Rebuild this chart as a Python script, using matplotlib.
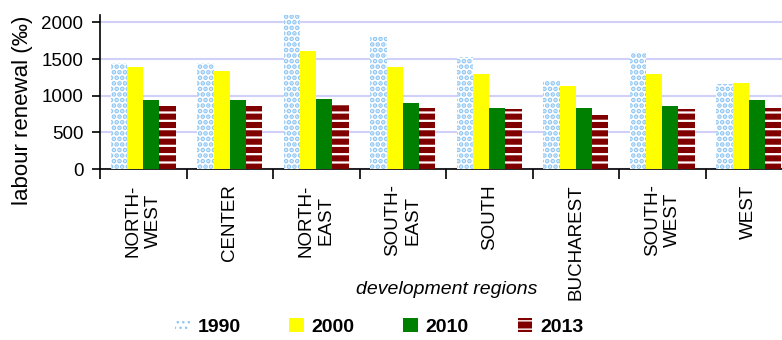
import matplotlib
matplotlib.use("Agg")
import matplotlib.pyplot as plt
import numpy as np

plt.rcParams['font.family'] = ['Liberation Sans', 'DejaVu Sans']

regions = ["NORTH-\nWEST", "CENTER", "NORTH-\nEAST", "SOUTH-\nEAST", "SOUTH",
           "BUCHAREST", "SOUTH-\nWEST", "WEST"]
years = ["1990", "2000", "2010", "2013"]
v1990 = [1450, 1450, 2120, 1805, 1530, 1215, 1600, 1160]
v2000 = [1385, 1340, 1605, 1385, 1290, 1135, 1300, 1178]
v2010 = [942, 942, 955, 900, 832, 832, 860, 942]
v2013 = [860, 860, 875, 828, 815, 735, 818, 832]
series = [v1990, v2000, v2010, v2013]

fig = plt.figure(figsize=(7.82, 3.40), dpi=100)
ax = fig.add_axes([100/782, 1-169/340, 692/782, 154/340])

x = np.arange(len(regions))
w = 0.1875
styles = [
    dict(facecolor='#ffffff', edgecolor='#8ec6f4', hatch='...', hlw=2.4),
    dict(facecolor='#ffff00', edgecolor='none', hatch=None, hlw=1.0),
    dict(facecolor='#008000', edgecolor='none', hatch=None, hlw=1.0),
    dict(facecolor='#800000', edgecolor='#ffffff', hatch='--', hlw=1.6),
]
handles = []
for i, (vals, st) in enumerate(zip(series, styles)):
    with plt.rc_context({'hatch.linewidth': st['hlw']}):
        b = ax.bar(x + (i - 1.5) * w, vals, width=w, facecolor=st['facecolor'],
                   edgecolor=st['edgecolor'], hatch=st['hatch'], linewidth=0,
                   label=years[i], zorder=3)
    handles.append(b)

ax.set_xlim(-0.5, len(regions) - 0.5)
ax.set_ylim(0, 2100)
ax.set_yticks([0, 500, 1000, 1500, 2000])
ax.yaxis.grid(True, color='#d0d0f8', linewidth=1.5, zorder=0)
ax.set_axisbelow(True)
for s in ['top', 'right']:
    ax.spines[s].set_visible(False)
ax.spines['left'].set_linewidth(1.2)
ax.spines['bottom'].set_linewidth(1.2)

ax.set_xticks(np.arange(len(regions) + 1) - 0.5)
ax.set_xticklabels([])
ax.tick_params(axis='x', which='major', length=7, width=1.2, direction='out')
ax.set_xticks(x, minor=True)
ax.set_xticklabels(regions, minor=True, rotation=90, fontsize=13.5, va='top', ha='center')
ax.tick_params(axis='x', which='minor', length=0, pad=11)
ax.tick_params(axis='y', length=6, width=1.2, labelsize=13.5, pad=6)

fig.text(23/782, 1-110/340, 'labour renewal (‰)', fontsize=16, rotation=90,
         ha='center', va='center')
fig.text(447/782, 1-289/340, 'development regions', fontsize=14, style='italic',
         ha='center', va='center')

fig.legend(handles=handles, labels=years, loc='center', bbox_to_anchor=(0.485, 1-327/340),
           ncol=4, frameon=False, prop={'weight': 'bold', 'size': 14},
           handlelength=0.75, handleheight=0.75, handletextpad=0.4, columnspacing=2.5)

fig.savefig('out.png', dpi=100)
